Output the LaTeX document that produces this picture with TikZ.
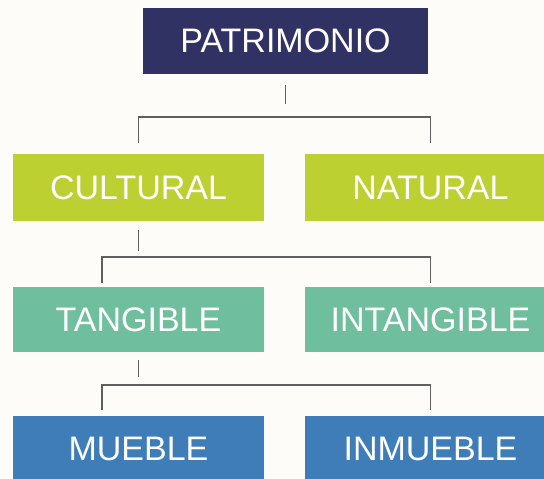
\documentclass[tikz,border=0pt]{standalone}
\usepackage{fontspec}
\setmainfont{Liberation Sans}
\usepackage{tikz}
\usetikzlibrary{positioning}

\definecolor{fondo}{HTML}{FDFCF8}
\definecolor{azuloscuro}{HTML}{2F3262}
\definecolor{lima}{HTML}{BDD031}
\definecolor{verdeagua}{HTML}{6FBF9E}
\definecolor{azul}{HTML}{3E7DB8}
\definecolor{gris}{HTML}{5F5F5F}

\begin{document}
\begin{tikzpicture}[x=1pt,y=1pt,
  caja/.style={rectangle,inner sep=0pt,minimum width=251pt,text=white,
    font=\fontsize{34}{40}\selectfont},
  linea/.style={color=gris,line width=1.6pt}]
\useasboundingbox (0,0) rectangle (544,-479);
\fill[color=fondo] (0,0) rectangle (544,-479);
\clip (0,0) rectangle (544,-479);

\node[caja,fill=azuloscuro,minimum width=285pt,minimum height=66pt] (patrimonio) at (285.5,-41) {PATRIMONIO};
\node[caja,fill=lima,minimum height=67pt] (cultural) at (138.5,-187.5) {CULTURAL};
\node[caja,fill=lima,minimum height=67pt] (natural) at (430.5,-187.5) {NATURAL};
\node[caja,fill=verdeagua,minimum height=65pt] (tangible) at (138.5,-319.5) {TANGIBLE};
\node[caja,fill=verdeagua,minimum height=65pt] (intangible) at (430.5,-319.5) {INTANGIBLE};
\node[caja,fill=azul,minimum height=66pt] (mueble) at (138.5,-449) {MUEBLE};
\node[caja,fill=azul,minimum height=66pt] (inmueble) at (430.5,-449) {INMUEBLE};

\draw[linea] ([yshift=-11pt]patrimonio.south) -- ++(0,-19);
\draw[linea] ([yshift=11pt]cultural.north) -- ++(0,26) -| ([yshift=11pt]natural.north);

\draw[linea] ([yshift=-9pt]cultural.south) -- ++(0,-21);
\draw[linea] ([xshift=-36.5pt,yshift=4pt]tangible.north) -- ++(0,26) -| ([yshift=4pt]intangible.north);

\draw[linea] ([yshift=-8pt]tangible.south) -- ++(0,-17);
\draw[linea] ([xshift=-36.5pt,yshift=6pt]mueble.north) -- ++(0,25) -| ([yshift=6pt]inmueble.north);
\end{tikzpicture}
\end{document}
